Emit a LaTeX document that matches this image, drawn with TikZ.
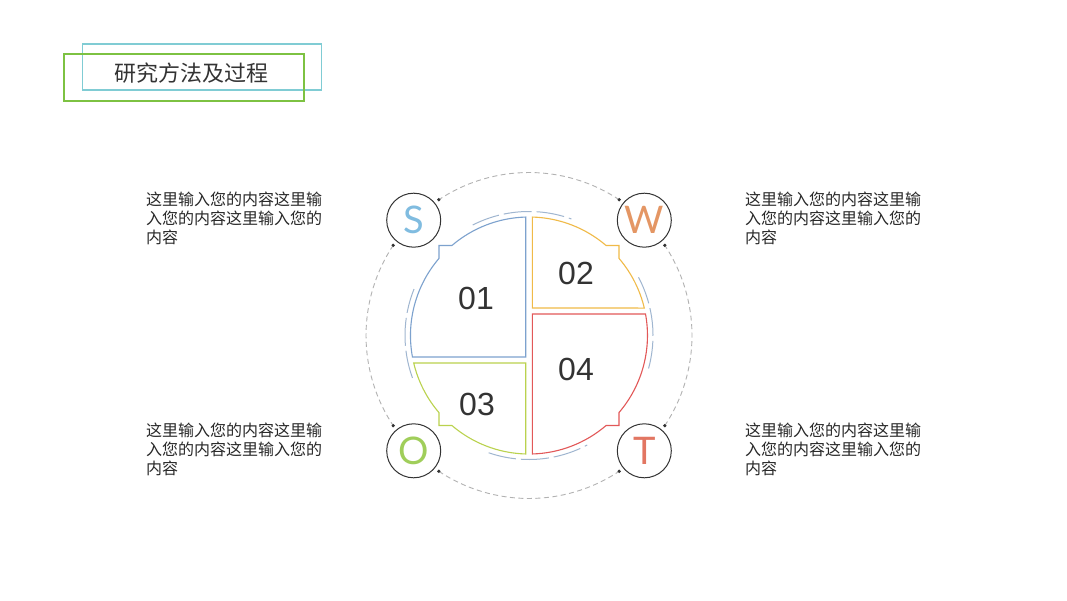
\documentclass[tikz,border=0pt]{standalone}
\usepackage{fontspec}
\usepackage{tikz}
\usetikzlibrary{positioning}
\setmainfont{Liberation Sans}
\newfontfamily\cjkfont{Noto Sans CJK SC}
\newfontfamily\thinfont{Lato}
\definecolor{pblue}{RGB}{125,162,206}
\definecolor{pyellow}{RGB}{240,186,72}
\definecolor{pred}{RGB}{226,88,88}
\definecolor{pgreen}{RGB}{186,210,78}
\definecolor{arcblue}{RGB}{160,182,208}
\definecolor{titlegreen}{RGB}{125,194,66}
\definecolor{titleteal}{RGB}{128,204,212}
\definecolor{numgray}{RGB}{51,51,51}
\definecolor{textgray}{RGB}{40,40,40}
\tikzset{
	x=1pt, y=1pt, % one unit is one pixel of the slide
	every node/.style={inner sep=0pt}, % boxes hug their text
	line join=miter, % sharp corners on the notches
}

\begin{document}
\begin{tikzpicture}[
	piece/.style={line width=1.1pt},
	num/.style={font=\fontsize{32}{32}\selectfont, text=numgray},
	letter/.style={circle, draw=black!80, line width=1pt, minimum size=54pt, font=\thinfont\fontsize{38}{38}\selectfont},
	ringdash/.style={gray!60, line width=0.9pt, dash pattern=on 5pt off 3.5pt},
	innerdash/.style={arcblue, line width=1pt, dash pattern=on 28pt off 5pt},
	note/.style={anchor=north west, align=left, text=textgray, font=\cjkfont\fontsize{16}{19}\selectfont},
	]
	\fill[white] (0,0) rectangle (1067,600);
	\useasboundingbox (0,0) rectangle (1067,600);

	%Title
	\node[draw=titleteal, line width=1.3pt, minimum width=239pt, minimum height=46pt] (tealbox) at (202.2,533) {};
	\node[draw=titlegreen, line width=1.8pt, minimum width=240pt, minimum height=46.7pt] (greenbox) at (184,522.6) {};
	\node[font=\cjkfont\fontsize{22}{22}\selectfont, text=numgray] (title) at (191,527) {研究方法及过程};

	%Notes
	\node[note] (noteS) at (146,408) {这里输入您的内容这里输\\入您的内容这里输入您的\\内容};
	\node[note] (noteW) at (745,408) {这里输入您的内容这里输\\入您的内容这里输入您的\\内容};
	\node[note] (noteO) at (146,177) {这里输入您的内容这里输\\入您的内容这里输入您的\\内容};
	\node[note] (noteT) at (745,177) {这里输入您的内容这里输\\入您的内容这里输入您的\\内容};

	\coordinate (c) at (529,264.5);

	%Rings
	\foreach \a in {45,135,225,315}{
		\draw[ringdash] (c) ++(\a+11.4:163pt) arc[start angle=\a+11.4, end angle=\a+78.6, radius=163pt];
		\fill[black!80] (c) ++(\a+11.4:163pt) circle[radius=1.8pt];
		\fill[black!80] (c) ++(\a+78.6:163pt) circle[radius=1.8pt];
	}
	\foreach \s/\e in {117/70, 28/-16, 251/298, 200/158}
		\draw[innerdash] (c) ++(\s:124pt) arc[start angle=\s, end angle=\e, radius=124pt];

	\begin{scope}[shift={(c)}]
	%Pieces
	\draw[piece, pblue] (-3.3,118.45) arc[start angle=91.6, end angle=130.6, radius=118.5pt]
		-- (-90,90) -- (-90,77.1) arc[start angle=139.4, end angle=190.45, radius=118.5pt]
		-- (-3.3,-21.5) -- cycle;
	\draw[piece, pyellow] (3.3,118.45) arc[start angle=88.4, end angle=49.4, radius=118.5pt]
		-- (90,90) -- (90,77.1) arc[start angle=40.6, end angle=13.4, radius=118.5pt]
		-- (3.3,27.5) -- cycle;
	\draw[piece, pred] (3.3,21.5) -- (116.5,21.5) arc[start angle=10.45, end angle=-40.6, radius=118.5pt]
		-- (90,-90) -- (77.1,-90) arc[start angle=-49.4, end angle=-88.4, radius=118.5pt] -- cycle;
	\draw[piece, pgreen] (-3.3,-27.5) -- (-115.3,-27.5) arc[start angle=193.4, end angle=220.6, radius=118.5pt]
		-- (-90,-90) -- (-77.1,-90) arc[start angle=229.4, end angle=268.4, radius=118.5pt] -- cycle;

	\node[num] (n01) at (-53,37.5) {01};
	\node[num] (n02) at (47,62.5) {02};
	\node[num] (n03) at (-52,-68.5) {03};
	\node[num] (n04) at (47,-33.5) {04};

	%Letters
	\node[letter, fill=white, text={rgb,255:red,128;green,188;blue,224}] (S) at (-115.3,115.3) {S};
	\node[letter, fill=white, text={rgb,255:red,228;green,150;blue,100}] (W) at (115.3,115.3) {W};
	\node[letter, fill=white, text={rgb,255:red,160;green,206;blue,90}] (O) at (-115.3,-115.3) {O};
	\node[letter, fill=white, text={rgb,255:red,226;green,118;blue,98}] (T) at (115.3,-115.3) {T};
	\end{scope}
\end{tikzpicture}
\end{document}
